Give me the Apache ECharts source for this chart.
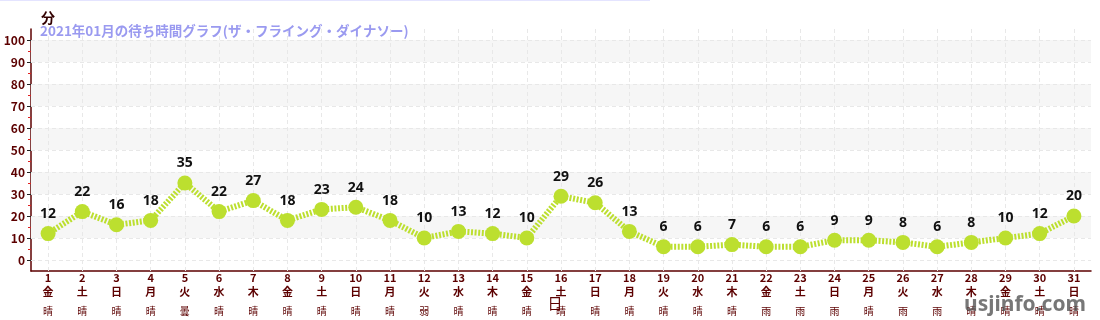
<!DOCTYPE html>
<html><head><meta charset="utf-8">
<script src="https://cdn.jsdelivr.net/npm/echarts@6/dist/echarts.min.js"></script>
<style>html,body{margin:0;padding:0;background:#fff}#c{width:1100px;height:320px}</style>
</head><body><div id="c"></div>
<script>
const days = ['1','2','3','4','5','6','7','8','9','10','11','12','13','14','15','16','17','18','19','20','21','22','23','24','25','26','27','28','29','30','31'];
const weekdays = ['金','土','日','月','火','水','木','金','土','日','月','火','水','木','金','土','日','月','火','水','木','金','土','日','月','火','水','木','金','土','日'];
const weather = ['晴','晴','晴','晴','曇','晴','晴','晴','晴','晴','晴','弱雨','晴','晴','晴','晴','晴','晴','晴','晴','晴','雨','雨','雨','晴','雨','雨','晴','晴','晴','晴'];
const waitMinutes = [12,22,16,18,35,22,27,18,23,24,18,10,13,12,10,29,26,13,6,6,7,6,6,9,9,8,6,8,10,12,20];
const yMajorTicks = [0,10,20,30,40,50,60,70,80,90,100];
const yMinorTicks = [5,15,25,35,45,55,65,75,85,95];
const grayBands = [[10,20],[30,40],[50,60],[70,80],[90,100]];
const titleText = '2021年01月の待ち時間グラフ(ザ・フライング・ダイナソー)';

const FONT = '"Noto Sans CJK JP","Noto Sans",sans-serif';
const AX = '#5c0000';
const chart = echarts.init(document.getElementById('c'));

const gridLines = yMajorTicks.map(v => ({yAxis: v})).concat(days.map(d => ({xAxis: d})));

chart.setOption({
  animation: false,
  textStyle: {fontFamily: FONT},
  title: {
    text: titleText, left: 35, top: 19,
    textStyle: {color: '#9a9af0', fontSize: 13.5, fontWeight: 'bold', fontFamily: FONT}
  },
  grid: {left: 31, right: 9, top: 29, bottom: 49, containLabel: false, outerBoundsMode: 'none'},
  graphic: [
    {type: 'rect', shape: {x: 0, y: 0, width: 650, height: 1}, style: {fill: '#e4e4ff'}, silent: true},
    {type: 'text', right: 14, bottom: 4, style: {text: 'usjinfo.com', fill: 'rgba(85,85,85,0.8)', font: 'bold 21px "Noto Sans",sans-serif'}, silent: true, z: 100}
  ],
  xAxis: {
    type: 'category', data: days,
    name: '日', nameLocation: 'middle', nameGap: 25, nameMoveOverlap: false,
    nameTextStyle: {color: AX, fontSize: 15, fontFamily: FONT, padding: [0, 12, 0, 0]},
    axisLine: {onZero: false, lineStyle: {color: AX, width: 1.5}},
    axisTick: {alignWithLabel: true, length: 4, lineStyle: {color: '#444'}},
    splitLine: {show: false},
    axisLabel: {
      margin: 0, interval: 0,
      formatter: (v, i) => {
        const w = weather[i].split('').map(c => '{b|' + c + '}').join('\n');
        return '{a|' + v + '}\n{a|' + weekdays[i] + '}\n{s| }\n' + w;
      },
      rich: {
        a: {color: AX, fontSize: 11, fontWeight: 'bold', lineHeight: 14, fontFamily: FONT},
        s: {fontSize: 4, lineHeight: 5},
        b: {color: AX, fontSize: 10, lineHeight: 14, fontFamily: FONT}
      }
    }
  },
  yAxis: [{
    type: 'value', min: -5, max: 105,
    name: '分', nameLocation: 'end', nameGap: 4,
    nameTextStyle: {color: '#330000', fontSize: 14, fontWeight: 'bold', fontFamily: FONT, align: 'center', padding: [0, 0, 0, 34]},
    axisLine: {show: true, lineStyle: {color: AX, width: 1.5}},
    axisTick: {show: true, length: 4, customValues: yMajorTicks, lineStyle: {color: '#222'}},
    axisLabel: {customValues: yMajorTicks, color: AX, fontSize: 12, fontWeight: 'bold', margin: 6, fontFamily: FONT},
    splitLine: {show: false}
  }, {
    type: 'value', min: -5, max: 105, position: 'left',
    axisLine: {show: false},
    axisTick: {show: true, length: 3, customValues: yMinorTicks, lineStyle: {color: '#e02020'}},
    axisLabel: {show: false},
    splitLine: {show: false}
  }],
  series: [{
    type: 'line', data: waitMinutes,
    symbol: 'circle', symbolSize: 15,
    itemStyle: {color: '#bcdf2f'},
    lineStyle: {color: '#bcdf2f', width: 6, type: [2, 1.6]},
    label: {show: true, position: 'top', distance: 5, color: '#111', fontSize: 14, fontWeight: 'bold', fontFamily: '"Noto Sans",sans-serif'},
    z: 5,
    markArea: {
      silent: true,
      itemStyle: {color: '#f6f6f6'},
      label: {show: false},
      data: grayBands.map(b => [{yAxis: b[0]}, {yAxis: b[1]}])
    },
    markLine: {
      silent: true, symbol: 'none', label: {show: false},
      lineStyle: {color: '#e8e8e8', type: [4, 3], width: 1},
      emphasis: {disabled: true},
      data: gridLines
    }
  }]
});
</script></body></html>
